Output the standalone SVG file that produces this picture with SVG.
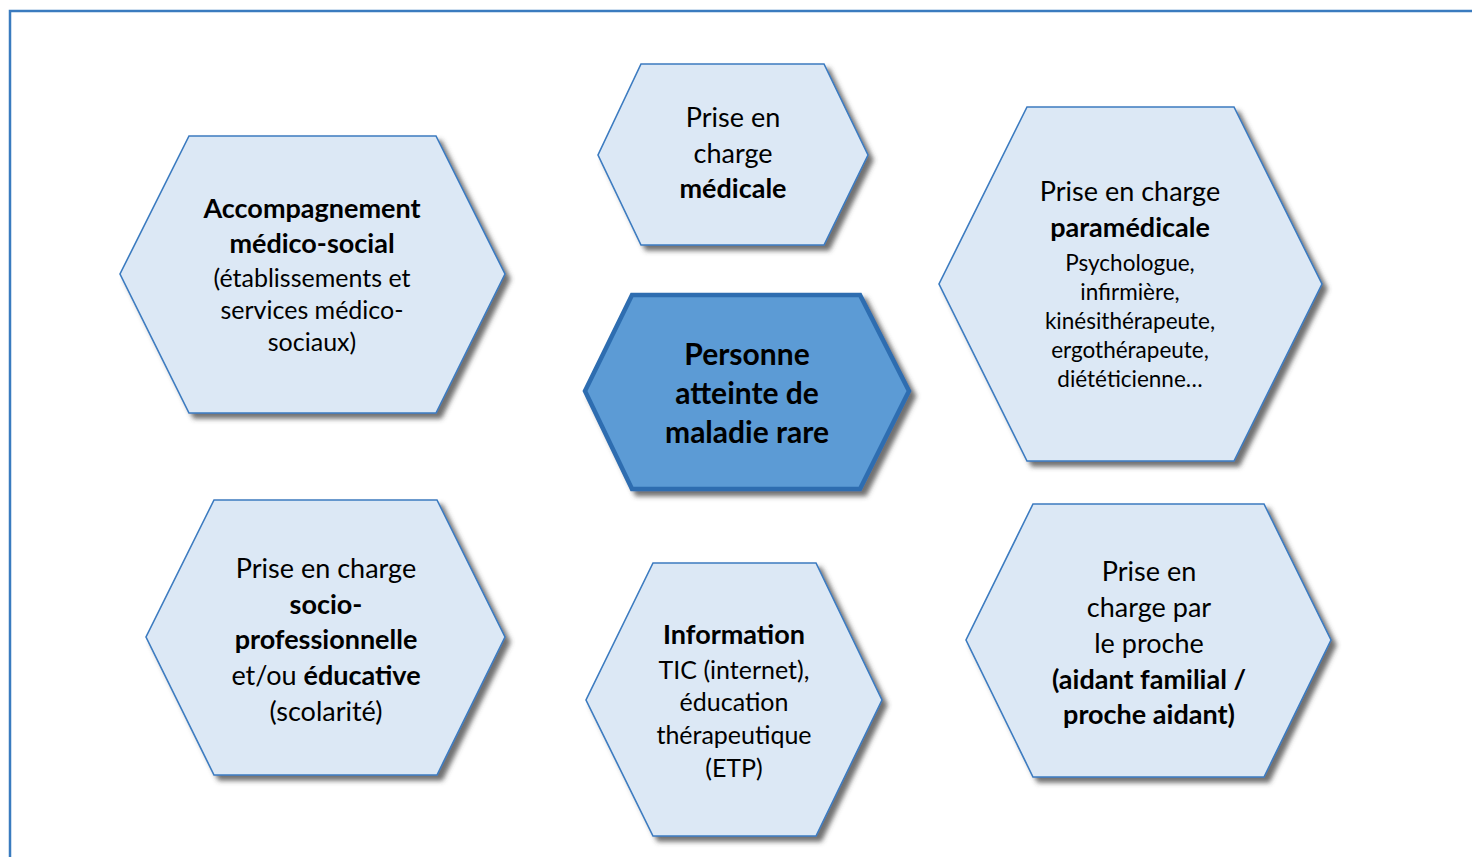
<svg xmlns="http://www.w3.org/2000/svg" width="1472" height="857" viewBox="0 0 1472 857">
<style>
.hex{fill:#dce8f5;stroke:#3c7bc0;stroke-width:1.6;filter:url(#sh)}
.ctr{fill:#5b9bd5;stroke:#2e6db0;stroke-width:4.5;filter:url(#sh)}
text{font-family:Lato,"Liberation Sans",sans-serif;fill:#000;text-anchor:middle}
.r{font-size:27px}
.b{font-size:27px;font-weight:bold}
.s{font-size:22.5px}
.m{font-size:25px}
.c{font-size:30px;font-weight:bold}
</style>
<defs>
<filter id="sh" x="-10%" y="-10%" width="125%" height="125%">
<feDropShadow dx="5" dy="5" stdDeviation="2.5" flood-color="#404040" flood-opacity="0.75"/>
</filter>
</defs>
<rect width="1472" height="857" fill="#fff"/>
<path d="M10 857 V11 H1472" fill="none" stroke="#3a7bbf" stroke-width="2.5"/>
<g id="connectors"/>
<g id="medicale">
<polygon class="hex" points="641,64 824,64 868,155 824,245 641,245 598,155"/>
<text class="r" x="733" y="127">Prise en</text>
<text class="r" x="733" y="163">charge</text>
<text class="b" x="733" y="198">médicale</text>
</g>
<g id="medicosocial">
<polygon class="hex" points="189,136 436,136 505,274 436,413 189,413 120,274"/>
<text class="b" x="312" y="218">Accompagnement</text>
<text class="b" x="312" y="253">médico-social</text>
<text class="m" x="312" y="287">(établissements et</text>
<text class="m" x="312" y="319">services médico-</text>
<text class="m" x="312" y="351">sociaux)</text>
</g>
<g id="paramedicale">
<polygon class="hex" points="1027,107 1234,107 1322,284 1234,461 1027,461 939,284"/>
<text class="r" x="1130" y="201">Prise en charge</text>
<text class="b" x="1130" y="237">paramédicale</text>
<text class="s" x="1130" y="271">Psychologue,</text>
<text class="s" x="1130" y="300">infirmière,</text>
<text class="s" x="1130" y="329">kinésithérapeute,</text>
<text class="s" x="1130" y="358">ergothérapeute,</text>
<text class="s" x="1130" y="387">diététicienne…</text>
</g>
<g id="personne">
<polygon class="ctr" points="632,295 860,295 909,391 860,489 632,489 585,391"/>
<text class="c" x="747" y="365">Personne</text>
<text class="c" x="747" y="404">atteinte de</text>
<text class="c" x="747" y="443">maladie rare</text>
</g>
<g id="socioprofessionnelle">
<polygon class="hex" points="214,500 437,500 505,637 437,775 214,775 146,637"/>
<text class="r" x="326" y="578">Prise en charge</text>
<text class="b" x="326" y="614">socio-</text>
<text class="b" x="326" y="649">professionnelle</text>
<text class="r" x="326" y="685">et/ou <tspan font-weight="bold">éducative</tspan></text>
<text class="r" x="326" y="721">(scolarité)</text>
</g>
<g id="information">
<polygon class="hex" points="653,563 816,563 882,700 816,836 653,836 586,700"/>
<text class="b" x="734" y="644">Information</text>
<text class="m" x="734" y="679">TIC (internet),</text>
<text class="m" x="734" y="711">éducation</text>
<text class="m" x="734" y="744">thérapeutique</text>
<text class="m" x="734" y="777">(ETP)</text>
</g>
<g id="proche">
<polygon class="hex" points="1033,504 1264,504 1331,640 1264,777 1033,777 966,640"/>
<text class="r" x="1149" y="581">Prise en</text>
<text class="r" x="1149" y="617">charge par</text>
<text class="r" x="1149" y="653">le proche</text>
<text class="b" x="1149" y="689">(aidant familial /</text>
<text class="b" x="1149" y="724">proche aidant)</text>
</g>
</svg>
